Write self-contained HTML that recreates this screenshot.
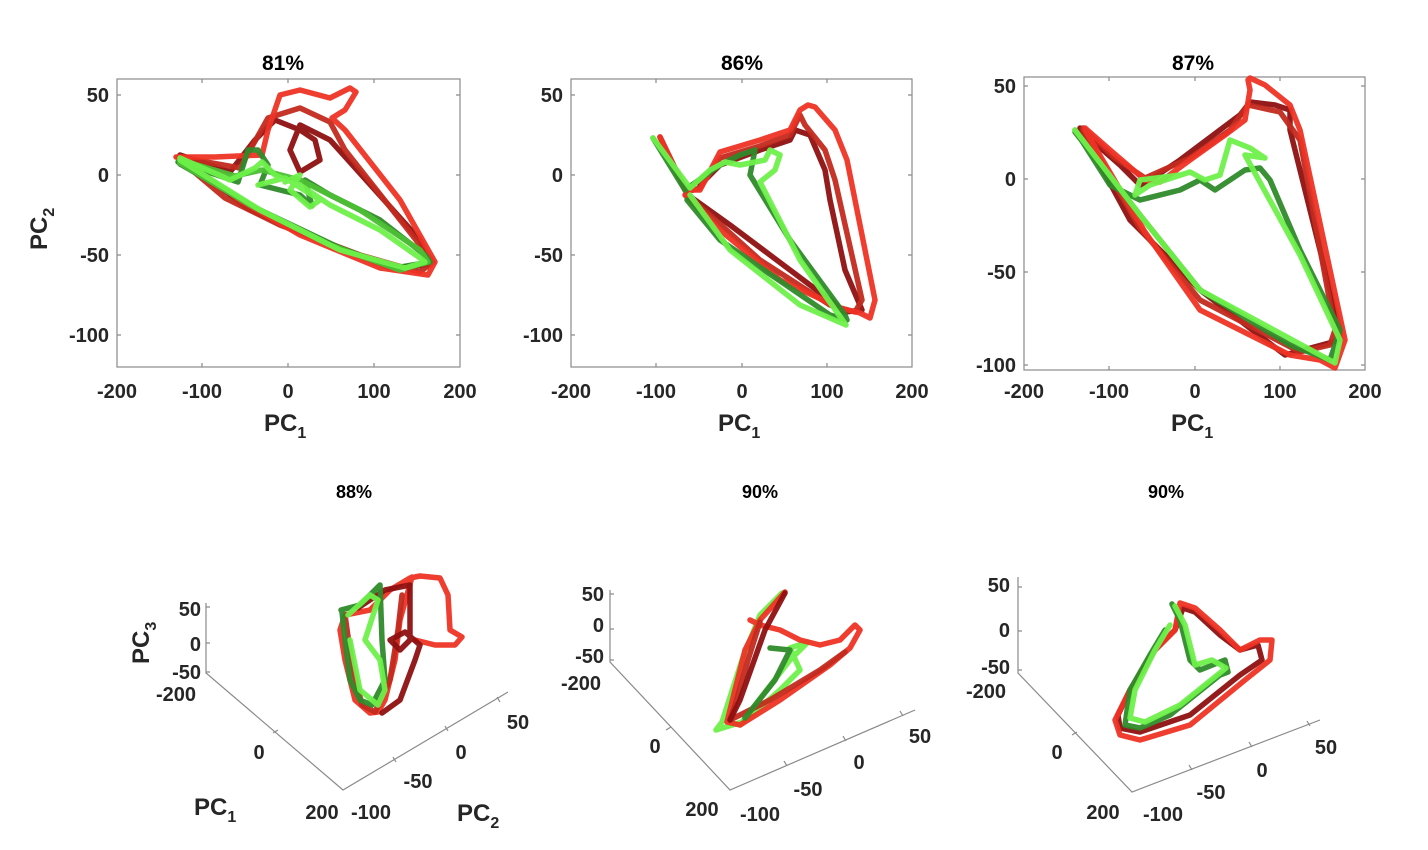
<!DOCTYPE html>
<html><head><meta charset="utf-8"><style>
html,body{margin:0;padding:0;background:#fff;}
svg{display:block;font-family:"Liberation Sans",Arial,sans-serif;font-weight:bold;fill:#262626;}
.ax{fill:none;stroke:#8a8a8a;stroke-width:1.2}
.t{font-size:20px}
.tt{font-size:21px;fill:#000}
.bt{font-size:18px;fill:#000}
.lb{font-size:24px}
path.c{fill:none;stroke-width:5.5;stroke-linejoin:round;stroke-linecap:round;opacity:.95}
.r1{stroke:#ee3325}.r2{stroke:#c22a1e}.r3{stroke:#8e1010}
.g1{stroke:#6ef04a}.g2{stroke:#4cbf35}.g3{stroke:#2f8a2a}
</style></head><body>
<svg width="1428" height="850" viewBox="0 0 1428 850" xmlns="http://www.w3.org/2000/svg">
<text class="tt" x="283" y="70" text-anchor="middle">81%</text>
<text class="tt" x="742" y="70" text-anchor="middle">86%</text>
<text class="tt" x="1193" y="70" text-anchor="middle">87%</text>
<text class="bt" x="354" y="498" text-anchor="middle">88%</text>
<text class="bt" x="760" y="498" text-anchor="middle">90%</text>
<text class="bt" x="1166" y="498" text-anchor="middle">90%</text>

<!-- Panel 1 -->
<rect class="ax" x="117" y="79" width="343" height="288"/>
<g class="ax">
<path d="M202,367v-4M288,367v-4M374,367v-4M202,79v4M288,79v4M374,79v4M117,95h4M117,175h4M117,255h4M117,335h4M460,95h-4M460,175h-4M460,255h-4M460,335h-4"/>
</g>
<g class="t" text-anchor="middle">
<text x="117" y="398">-200</text><text x="202" y="398">-100</text><text x="288" y="398">0</text><text x="374" y="398">100</text><text x="460" y="398">200</text>
</g>
<g class="t" text-anchor="end">
<text x="109" y="102">50</text><text x="109" y="182">0</text><text x="109" y="262">-50</text><text x="109" y="342">-100</text>
</g>
<text class="lb" x="264" y="431">PC<tspan font-size="16" dy="7">1</tspan></text>
<text class="lb" transform="translate(47,250) rotate(-90)">PC<tspan font-size="16" dy="7">2</tspan></text>
<path class="c r3" d="M180,155 L230,172 L255,140 L275,120 L300,130 L315,140 L320,160 L300,172 L290,150 L300,125 L330,140 L420,240 L430,265 L390,268 L320,240 L250,210 L182,158"/>
<path class="c r2" d="M178,157 L240,168 L268,118 L300,108 L330,122 L345,150 L420,245 L433,262 L420,272 L360,255 L280,225 L225,198 L180,160"/>
<path class="c r1" d="M176,157 L215,157 L262,155 L268,130 L280,95 L300,90 L330,98 L350,88 L356,92 L345,110 L332,118 L345,130 L400,200 L435,262 L428,275 L380,268 L300,235 L240,200 L180,160"/>
<path class="c g3" d="M178,162 L238,182 L248,150 L258,150 L268,165 L260,185 L300,195 L312,206 L305,180 L330,195 L380,220 L425,255 L430,262 L395,268 L340,248 L260,210 L180,164"/>
<path class="c g2" d="M180,160 L235,176 L262,170 L300,180 L360,210 L420,250 L428,262 L400,270 L330,245 L250,205 L180,163"/>
<path class="c g1" d="M180,158 L230,180 L255,168 L262,162 L275,175 L300,185 L330,205 L380,230 L420,258 L425,262 L405,268 L340,250 L260,210 L180,160 M258,185 L285,178 L320,200 L310,207 L290,190 L300,175 L285,182"/>

<!-- Panel 2 -->
<rect class="ax" x="571" y="79" width="341" height="288"/>
<g class="ax">
<path d="M656,367v-4M742,367v-4M827,367v-4M656,79v4M742,79v4M827,79v4M571,95h4M571,175h4M571,255h4M571,335h4M912,95h-4M912,175h-4M912,255h-4M912,335h-4"/>
</g>
<g class="t" text-anchor="middle">
<text x="571" y="398">-200</text><text x="656" y="398">-100</text><text x="742" y="398">0</text><text x="827" y="398">100</text><text x="912" y="398">200</text>
</g>
<g class="t" text-anchor="end">
<text x="563" y="102">50</text><text x="563" y="182">0</text><text x="563" y="262">-50</text><text x="563" y="342">-100</text>
</g>
<text class="lb" x="718" y="431">PC<tspan font-size="16" dy="7">1</tspan></text>
<path class="c r3" d="M660,137 L688,195 L730,225 L830,300 L845,312 L862,310 L845,270 L830,200 L825,170 L810,135 L795,130 L790,140 L760,150 L720,165 L700,185"/>
<path class="c r2" d="M660,137 L686,192 L700,188 L720,158 L760,146 L790,135 L800,115 L805,125 L825,150 L835,180 L862,300 L855,312 L830,305 L760,260 L710,215 L686,195"/>
<path class="c r1" d="M660,137 L685,190 L700,190 L720,152 L760,140 L790,130 L800,110 L808,105 L815,107 L835,130 L847,160 L875,300 L870,318 L860,313 L840,308 L780,280 L720,230 L685,195"/>
<path class="c g3" d="M653,138 L685,190 L720,165 L740,155 L755,150 L750,175 L790,240 L845,315 L847,320 L830,315 L720,240 L687,200"/>
<path class="c g1" d="M653,138 L690,188 L710,170 L725,162 L740,165 L765,160 L770,150 L780,155 L775,170 L760,182 L800,260 L846,325 L800,305 L730,250 L690,195"/>

<!-- Panel 3 -->
<rect class="ax" x="1024" y="77" width="341" height="293"/>
<g class="ax">
<path d="M1109,370v-4M1195,370v-4M1280,370v-4M1109,77v4M1195,77v4M1280,77v4M1024,86h4M1024,179h4M1024,272h4M1024,365h4M1365,86h-4M1365,179h-4M1365,272h-4M1365,365h-4"/>
</g>
<g class="t" text-anchor="middle">
<text x="1024" y="398">-200</text><text x="1109" y="398">-100</text><text x="1195" y="398">0</text><text x="1280" y="398">100</text><text x="1365" y="398">200</text>
</g>
<g class="t" text-anchor="end">
<text x="1016" y="93">50</text><text x="1016" y="186">0</text><text x="1016" y="279">-50</text><text x="1016" y="372">-100</text>
</g>
<text class="lb" x="1171" y="431">PC<tspan font-size="16" dy="7">1</tspan></text>
<path class="c r3" d="M1080,128 L1130,220 L1150,240 L1200,290 L1285,355 L1340,340 L1340,330 L1290,130 L1290,110 L1275,105 L1250,102 L1240,115 L1220,130 L1180,160 L1150,180 L1140,185 L1120,165 L1080,130"/>
<path class="c r2" d="M1083,128 L1115,158 L1145,178 L1190,158 L1230,130 L1248,105 L1280,112 L1300,140 L1335,330 L1330,345 L1300,352 L1200,300 L1140,228 L1083,130"/>
<path class="c r1" d="M1085,128 L1110,150 L1145,180 L1160,182 L1190,160 L1225,135 L1245,120 L1250,90 L1248,80 L1250,78 L1265,85 L1290,105 L1300,130 L1345,340 L1335,368 L1320,360 L1290,355 L1200,310 L1145,232 L1085,130"/>
<path class="c g3" d="M1075,130 L1110,185 L1140,200 L1180,190 L1200,180 L1215,190 L1245,170 L1260,168 L1270,180 L1300,250 L1340,330 L1330,360 L1290,345 L1200,290 L1140,215 L1075,132"/>
<path class="c g1" d="M1075,130 L1140,215 L1200,290 L1335,363 L1340,340 L1300,255 L1245,155 L1265,158 L1250,148 L1230,140 L1220,175 L1205,180 L1190,172 L1150,185 L1135,195 L1140,180 L1180,175"/>

<!-- Bottom 1 -->
<path class="ax" d="M206,603 V673 L343,790 L508,692 M206,607h4M206,643h4M206,672h4M273,733l5,-3M396,762l-3,-5M448,731l-3,-5M500,702l-3,-5"/>
<g class="t" text-anchor="end" font-size="19">
<text x="201" y="616">50</text><text x="201" y="651">0</text><text x="201" y="679">-50</text><text x="196" y="701">-200</text>
</g>
<g class="t" text-anchor="middle" font-size="19">
<text x="259" y="759">0</text><text x="322" y="819">200</text><text x="371" y="819">-100</text><text x="418" y="788">-50</text><text x="461" y="759">0</text><text x="518" y="729">50</text>
</g>
<text class="lb" x="194" y="815">PC<tspan font-size="16" dy="7">1</tspan></text>
<text class="lb" x="457" y="821">PC<tspan font-size="16" dy="7">2</tspan></text>
<text class="lb" transform="translate(149,664) rotate(-90)">PC<tspan font-size="16" dy="7">3</tspan></text>
<path class="c r1" d="M340,630 L345,615 L370,610 L390,590 L410,578 L420,576 L440,578 L448,595 L450,630 L462,637 L455,645 L435,645 L415,640 M340,630 L345,660 L355,700 L370,713 L378,712 L385,700 L395,660 L400,620 L412,577"/>
<path class="c r2" d="M345,615 L352,665 L362,705 L375,712 L390,680 L398,630 L402,595"/>
<path class="c r3" d="M358,608 L385,590 L410,585 L410,640 L400,650 L390,640 L405,632 L420,645 L415,660 L400,700 L382,713"/>
<path class="c g3" d="M341,610 L360,605 L380,585 L382,640 L385,680 L372,705 L360,700 L350,680 L345,640 L342,612"/>
<path class="c g1" d="M348,615 L370,595 L378,600 L365,640 L380,660 L385,690 L378,705 L360,690 L350,640"/>

<!-- Bottom 2 -->
<path class="ax" d="M610,590 V662 L730,790 L915,710 M610,594h4M610,629h4M610,660h4M666,730l5,-3M787,766l-3,-5M846,741l-3,-5M903,716l-3,-5"/>
<g class="t" text-anchor="end" font-size="19">
<text x="604" y="601">50</text><text x="604" y="632">0</text><text x="604" y="663">-50</text><text x="601" y="690">-200</text>
</g>
<g class="t" text-anchor="middle" font-size="19">
<text x="655" y="753">0</text><text x="702" y="816">200</text><text x="760" y="821">-100</text><text x="808" y="796">-50</text><text x="859" y="769">0</text><text x="920" y="743">50</text>
</g>
<path class="c g1" d="M782,593 L760,615 L742,660 L722,722 L716,730 L742,722 L790,660 L808,642 L790,648 L800,670 L780,690 L740,725"/>
<path class="c r1" d="M785,592 L760,620 L745,650 L735,690 L727,722 L740,725 L780,700 L830,665 L850,648 L860,630 L855,625 L840,640 L820,645 L800,640 L780,630 L760,625 L750,620"/>
<path class="c r2" d="M760,622 L748,660 L735,705 L730,720 L770,700 L820,670 L845,652"/>
<path class="c r3" d="M785,593 L765,630 L740,700 L730,720"/>
<path class="c g3" d="M770,648 L790,650 L775,680 L745,718"/>

<!-- Bottom 3 -->
<path class="ax" d="M1018,577 V673 L1132,792 L1320,720 M1018,587h4M1018,631h4M1018,670h4M1072,735l5,-3M1192,770l-3,-5M1252,747l-3,-5M1310,726l-3,-5"/>
<g class="t" text-anchor="end" font-size="19">
<text x="1010" y="592">50</text><text x="1010" y="637">0</text><text x="1010" y="674">-50</text><text x="1006" y="698">-200</text>
</g>
<g class="t" text-anchor="middle" font-size="19">
<text x="1057" y="759">0</text><text x="1103" y="819">200</text><text x="1163" y="821">-100</text><text x="1211" y="799">-50</text><text x="1262" y="777">0</text><text x="1326" y="754">50</text>
</g>
<path class="c r3" d="M1183,608 L1195,612 L1220,635 L1240,650 L1258,645 L1262,660 L1240,675 L1190,715 L1140,732 L1120,728 L1118,715 L1130,690 L1155,650 L1175,630 L1183,608"/>
<path class="c r1" d="M1180,603 L1195,608 L1220,630 L1240,650 L1260,640 L1272,640 L1270,660 L1245,680 L1190,725 L1140,740 L1120,735 L1115,720 L1130,690 L1155,650 L1175,630 L1180,603"/>
<path class="c g3" d="M1172,604 L1180,620 L1190,660 L1200,670 L1225,660 L1228,672 L1220,675 L1170,715 L1140,728 L1125,725 L1130,690 L1150,655 L1165,630"/>
<path class="c g1" d="M1175,606 L1185,625 L1195,665 L1212,660 L1226,668 L1180,705 L1145,722 L1130,718 L1135,690 L1155,650 L1170,625"/>
</svg>
</body></html>
